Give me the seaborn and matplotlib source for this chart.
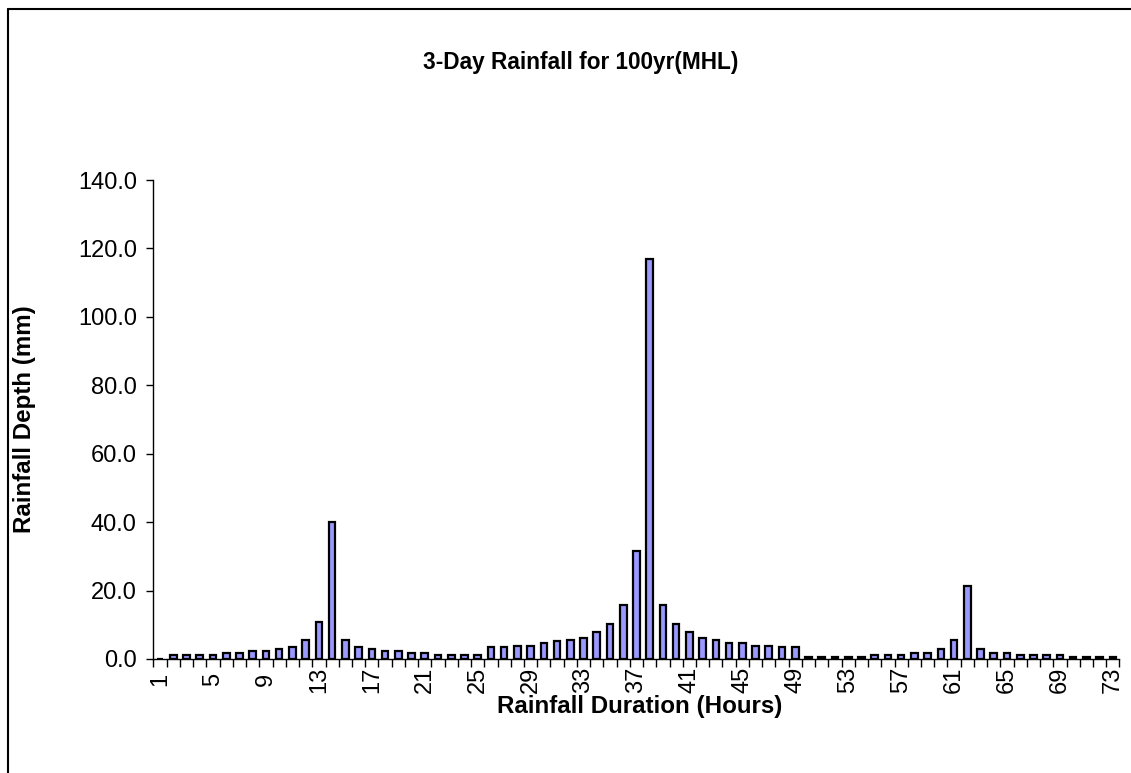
import matplotlib
matplotlib.use("Agg")
import matplotlib.pyplot as plt
from matplotlib.lines import Line2D
from matplotlib.ticker import FixedLocator, FormatStrFormatter
import seaborn as sns
import pandas as pd

# Hourly design storm depths (mm) over a 72-hour event
hours = [str(h) for h in range(1, 74)]
depth_mm = [
    0.0,                                    # 1
    1.07, 1.07, 1.07, 1.07,                 # 2-5
    1.66, 1.66, 2.34, 2.34,                 # 6-9
    2.83, 3.41, 5.65, 10.7,                 # 10-13
    40.0,                                   # 14
    5.65, 3.41, 2.83, 2.34, 2.34,           # 15-19
    1.66, 1.66, 1.07, 1.07, 1.07, 1.07,     # 20-25
    3.41, 3.41, 3.9, 3.9, 4.58,             # 26-30
    5.17, 5.65, 6.24, 7.9, 10.1,            # 31-35
    15.8, 31.6, 116.8,                      # 36-38
    15.8, 10.1, 7.9, 6.24, 5.65,            # 39-43
    4.58, 4.58, 3.9, 3.9, 3.41, 3.41,       # 44-49
    0.49, 0.49, 0.49, 0.49, 0.49,           # 50-54
    1.07, 1.07, 1.07, 1.66, 1.66,           # 55-59
    2.83, 5.65, 21.4,                       # 60-62
    2.83, 1.66, 1.66,                       # 63-65
    1.07, 1.07, 1.07, 1.07,                 # 66-69
    0.49, 0.49, 0.49, 0.49,                 # 70-73
]
xtick_labels = [str(h) for h in range(1, 74, 4)]
yticks = [0, 20, 40, 60, 80, 100, 120, 140]

df = pd.DataFrame({"hour": hours, "depth": depth_mm})

sns.set_style("white")
plt.rcParams["font.family"] = ["Liberation Sans", "DejaVu Sans"]
plt.rcParams["text.color"] = "black"
plt.rcParams["axes.labelcolor"] = "black"
plt.rcParams["xtick.color"] = "black"
plt.rcParams["ytick.color"] = "black"

fig = plt.figure(figsize=(11.31, 7.73), dpi=100)
ax = fig.add_axes([0.1357, 0.1475, 0.9898 - 0.1357, 0.7671 - 0.1475])

sns.barplot(data=df, x="hour", y="depth", order=hours, color="#9999FF",
            saturation=1, width=0.5, edgecolor="black", linewidth=1.6,
            errorbar=None, ax=ax)

ax.set_xlim(-0.5, len(hours) - 0.5)
ax.set_ylim(0, 140)

# Category labels every fourth hour, tick marks between every category
label_pos = [hours.index(l) for l in xtick_labels]
ax.set_xticks(label_pos)
ax.set_xticklabels(xtick_labels, rotation=90, fontsize=17, va="center")
ax.xaxis.set_minor_locator(FixedLocator([i - 0.5 for i in range(len(hours) + 1)]))
ax.tick_params(axis="x", which="major", length=0, pad=15)
ax.tick_params(axis="x", which="minor", length=6, width=1, color="black",
               direction="out", bottom=True)

ax.set_yticks(yticks)
ax.yaxis.set_major_formatter(FormatStrFormatter("%.1f"))
ax.tick_params(axis="y", which="major", length=5, width=1, color="black",
               direction="out", left=True, labelsize=17, pad=7)

for side in ("top", "right"):
    ax.spines[side].set_visible(False)
for side in ("left", "bottom"):
    ax.spines[side].set_color("black")
    ax.spines[side].set_linewidth(1.0)

ax.set_xlabel("")
ax.set_ylabel("")

fig.text(581 / 1131, 1 - 62 / 773, "3-Day Rainfall for 100yr(MHL)",
         ha="center", va="center", fontsize=16.3, fontweight="bold")
fig.text(640 / 1131, 1 - 707 / 773, "Rainfall Duration (Hours)",
         ha="center", va="center", fontsize=17.4, fontweight="bold")
fig.text(25 / 1131, 1 - 419 / 773, "Rainfall Depth (mm)",
         ha="center", va="center", rotation=90, fontsize=17.4,
         fontweight="bold")

# Chart-area frame (top and left edges)
W, H = 1131, 773
fig.add_artist(Line2D([8 / W, 1.0], [1 - 9 / H, 1 - 9 / H],
                      transform=fig.transFigure, color="black", lw=1.5))
fig.add_artist(Line2D([8 / W, 8 / W], [1 - 9 / H, 0.0],
                      transform=fig.transFigure, color="black", lw=1.5))

fig.savefig("out.png", dpi=100, facecolor="white")
